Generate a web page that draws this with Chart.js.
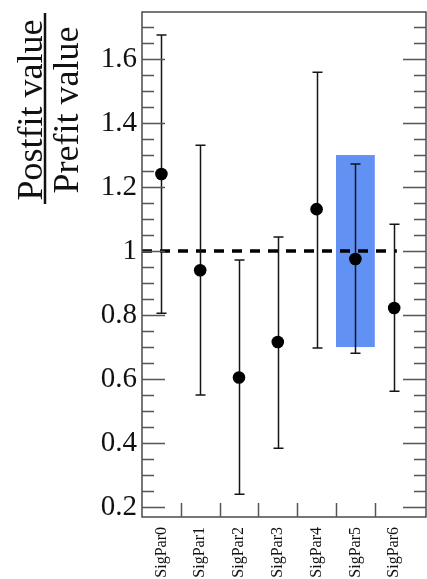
<!DOCTYPE html>
<html>
<head>
<meta charset="utf-8">
<script src="https://cdn.jsdelivr.net/npm/chart.js@4/dist/chart.umd.min.js"></script>
<style>
  html, body { margin: 0; padding: 0; background: #fff; }
  #wrap { width: 427px; height: 579px; }
</style>
</head>
<body>
<div id="wrap"><canvas id="pulls" width="427" height="579"></canvas></div>
<script>
// fitted signal parameters, postfit / prefit
const params = ['SigPar0', 'SigPar1', 'SigPar2', 'SigPar3', 'SigPar4', 'SigPar5', 'SigPar6'];
const ratio = [1.241, 0.94, 0.605, 0.716, 1.131, 0.975, 0.822];
const errLow = [0.806, 0.55, 0.24, 0.384, 0.697, 0.681, 0.562];
const errHigh = [1.675, 1.331, 0.972, 1.044, 1.559, 1.272, 1.084];

// expected band drawn behind SigPar5
const bandBin = 5;
const bandLow = 0.7;
const bandHigh = 1.3;

const yTicks = [0.2, 0.4, 0.6, 0.8, 1.0, 1.2, 1.4, 1.6];
const yMin = 0.169, yMax = 1.747;
const xMax = 7.32;
const refValue = 1.0, refEnd = 6.57;

const serif = '"Liberation Serif", "DejaVu Serif", serif';
const frameColor = '#4a4a4a';

const rootStyle = {
  id: 'rootStyle',
  beforeDatasetsDraw(chart) {
    const { ctx, scales: { x, y } } = chart;
    ctx.save();

    // band
    const bx0 = x.getPixelForValue(bandBin), bx1 = x.getPixelForValue(bandBin + 1);
    const by0 = y.getPixelForValue(bandHigh), by1 = y.getPixelForValue(bandLow);
    ctx.fillStyle = '#6191f3';
    ctx.fillRect(bx0, by0, bx1 - bx0, by1 - by0);

    // reference line at 1
    ctx.strokeStyle = '#000';
    ctx.lineWidth = 3.5;
    ctx.setLineDash([10, 8]);
    ctx.beginPath();
    ctx.moveTo(x.getPixelForValue(0), y.getPixelForValue(refValue));
    ctx.lineTo(x.getPixelForValue(refEnd), y.getPixelForValue(refValue));
    ctx.stroke();
    ctx.setLineDash([]);

    // error bars with caps
    ctx.strokeStyle = '#151515';
    ctx.lineWidth = 1.5;
    params.forEach((_, i) => {
      const px = Math.round(x.getPixelForValue(i + 0.5)) + 0.5;
      const lo = y.getPixelForValue(errLow[i]);
      const hi = y.getPixelForValue(errHigh[i]);
      ctx.beginPath();
      ctx.moveTo(px, lo); ctx.lineTo(px, hi);
      ctx.moveTo(px - 5, lo); ctx.lineTo(px + 5, lo);
      ctx.moveTo(px - 5, hi); ctx.lineTo(px + 5, hi);
      ctx.stroke();
    });
    ctx.restore();
  },
  afterDraw(chart) {
    const { ctx, chartArea: a, scales: { x, y } } = chart;
    ctx.save();

    // frame
    ctx.strokeStyle = frameColor;
    ctx.lineWidth = 1.5;
    ctx.strokeRect(a.left, a.top, a.right - a.left, a.bottom - a.top);

    // y ticks on both sides, major every 0.2 and minor every 0.05
    ctx.strokeStyle = '#555';
    ctx.lineWidth = 1.5;
    for (let k = 4; k <= 34; k++) {
      const v = k * 0.05;
      if (v < yMin || v > yMax) continue;
      const py = Math.round(y.getPixelForValue(v)) + 0.5;
      const len = k % 4 === 0 ? 23 : 12;
      ctx.beginPath();
      ctx.moveTo(a.left, py); ctx.lineTo(a.left + len, py);
      ctx.moveTo(a.right, py); ctx.lineTo(a.right - len, py);
      ctx.stroke();
    }

    // x ticks at bin edges
    for (let i = 1; i < params.length; i++) {
      const px = Math.round(x.getPixelForValue(i)) + 0.5;
      ctx.beginPath();
      ctx.moveTo(px, a.bottom); ctx.lineTo(px, a.bottom - 14);
      ctx.stroke();
    }

    // y axis title as a fraction
    ctx.fillStyle = '#111';
    ctx.font = '36px ' + serif;
    ctx.textAlign = 'center';
    ctx.textBaseline = 'alphabetic';
    [['Postfit value', 42], ['Prefit value', 78]].forEach(([txt, bx]) => {
      ctx.save();
      ctx.translate(bx, 110);
      ctx.rotate(-Math.PI / 2);
      ctx.fillText(txt, 0, 0);
      ctx.restore();
    });
    ctx.strokeStyle = '#111';
    ctx.lineWidth = 2.5;
    ctx.beginPath();
    ctx.moveTo(45, 13); ctx.lineTo(45, 204);
    ctx.stroke();
    ctx.restore();
  }
};

new Chart(document.getElementById('pulls'), {
  type: 'scatter',
  data: {
    datasets: [{
      data: params.map((_, i) => ({ x: i + 0.5, y: ratio[i] })),
      pointRadius: 6.3,
      pointHoverRadius: 6.3,
      pointBackgroundColor: '#000',
      pointBorderWidth: 0
    }]
  },
  options: {
    responsive: false,
    animation: false,
    devicePixelRatio: 1,
    layout: { autoPadding: false, padding: { top: 12, right: 1, left: 0, bottom: 0 } },
    plugins: { legend: { display: false }, tooltip: { enabled: false } },
    scales: {
      x: {
        type: 'linear',
        min: 0,
        max: xMax,
        grid: { display: false, drawTicks: false },
        border: { display: false },
        afterBuildTicks: s => { s.ticks = params.map((_, i) => ({ value: i + 0.5 })); },
        afterFit: s => { s.height = 62; s.paddingLeft = 0; s.paddingRight = 0; },
        ticks: {
          autoSkip: false,
          minRotation: 90,
          maxRotation: 90,
          padding: 10,
          color: '#111',
          font: { family: serif, size: 16 },
          callback: v => params[Math.round(v - 0.5)]
        }
      },
      y: {
        min: yMin,
        max: yMax,
        grid: { display: false, drawTicks: false },
        border: { display: false },
        afterBuildTicks: s => { s.ticks = yTicks.map(v => ({ value: v })); },
        afterFit: s => { s.width = 142; s.paddingTop = 0; s.paddingBottom = 0; },
        ticks: {
          padding: 5,
          color: '#111',
          font: { family: serif, size: 29 },
          callback: v => String(Math.round(v * 10) / 10)
        }
      }
    }
  },
  plugins: [rootStyle]
});
</script>
</body>
</html>
